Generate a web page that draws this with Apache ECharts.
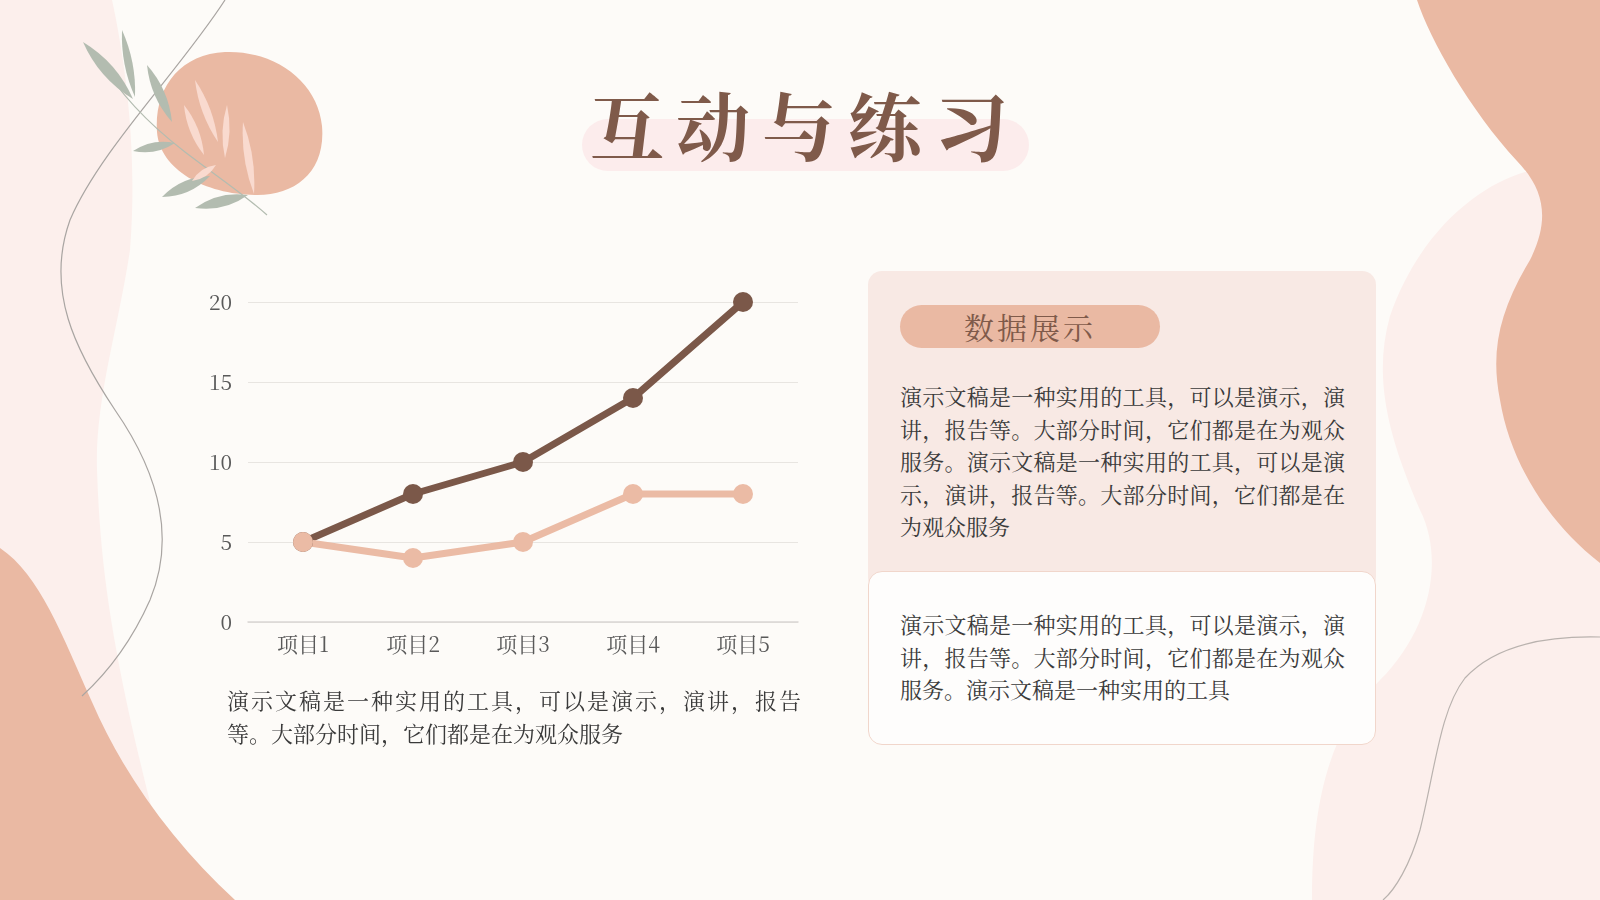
<!DOCTYPE html>
<html>
<head>
<meta charset="utf-8">
<script src="https://cdn.jsdelivr.net/npm/echarts@6/dist/echarts.min.js"></script>
<style>
  html, body { margin: 0; padding: 0; background: #fdfbf8; }
  #page { position: relative; width: 1600px; height: 900px; overflow: hidden; }
  #deco { position: absolute; left: 0; top: 0; width: 1600px; height: 900px; }
  #chart { position: absolute; left: 0; top: 0; width: 1600px; height: 900px; }
  .txt { position: absolute; font-family: "Noto Serif CJK SC", "Noto Sans CJK SC", serif; color: #3a3a3a; }
  .txt .ln { white-space: nowrap; }
  .txt .ln.j { text-align: justify; text-align-last: justify; }
  #title { left: 560px; top: 73px; width: 490px; text-align: center; font-size: 74px; font-weight: bold;
           color: #7f5a4a; letter-spacing: 12px; line-height: 100px; }
  #caption { left: 227px; top: 683px; width: 574px; font-size: 22px; line-height: 33px; }
  #panelTop { position: absolute; left: 868px; top: 271px; width: 508px; height: 320px; background: #f8e9e4; border-radius: 14px; }
  #panelBot { position: absolute; left: 868px; top: 571px; width: 506px; height: 172px; background: #fefdfc;
              border: 1px solid #f1d6cb; border-radius: 14px; }
  #pill { position: absolute; left: 900px; top: 305px; width: 260px; height: 43px; background: #eab9a3; border-radius: 22px;
          text-align: center; line-height: 43px; font-size: 30px; letter-spacing: 3px; color: #7f5a4a; }
  #p1 { left: 900px; top: 380px; width: 445px; font-size: 22px; line-height: 32.6px; }
  #p2 { left: 900px; top: 608px; width: 445px; font-size: 22px; line-height: 32.6px; }
</style>
</head>
<body>
<div id="page">
  <svg id="deco" width="1600" height="900" viewBox="0 0 1600 900"></svg>
  <div id="chart"></div>
  <div class="txt" id="title">互动与练习</div>
  <div class="txt" id="caption"></div>
  <div id="panelTop"></div>
  <div id="panelBot"></div>
  <div class="txt" id="pill">数据展示</div>
  <div class="txt" id="p1"></div>
  <div class="txt" id="p2"></div>
</div>
<script>
// 图表数据
var categories = ['项目1', '项目2', '项目3', '项目4', '项目5'];
var seriesDark = [5, 8, 10, 14, 20];
var seriesLight = [5, 4, 5, 8, 8];
var yTicks = [0, 5, 10, 15, 20];

// 文本
var captionLines = ['演示文稿是一种实用的工具，可以是演示，演讲，报告', '等。大部分时间，它们都是在为观众服务'];
var panelLines1 = ['演示文稿是一种实用的工具，可以是演示，演', '讲，报告等。大部分时间，它们都是在为观众',
  '服务。演示文稿是一种实用的工具，可以是演', '示，演讲，报告等。大部分时间，它们都是在', '为观众服务'];
var panelLines2 = ['演示文稿是一种实用的工具，可以是演示，演', '讲，报告等。大部分时间，它们都是在为观众',
  '服务。演示文稿是一种实用的工具'];

// 两端对齐，末行左对齐
function fillLines(id, lines) {
  var html = '';
  for (var i = 0; i < lines.length; i++) {
    html += '<div class="ln' + (i < lines.length - 1 ? ' j' : '') + '">' + lines[i] + '</div>';
  }
  document.getElementById(id).innerHTML = html;
}
fillLines('caption', captionLines);
fillLines('p1', panelLines1);
fillLines('p2', panelLines2);

var DARK = '#7b5849';
var LIGHT = '#ebbba5';
var SALMON = '#eab9a3';
var PINK = '#fcefec';

// 叶子形状
function leafPath(x1, y1, x2, y2, w) {
  var mx = (x1 + x2) / 2, my = (y1 + y2) / 2;
  var dx = x2 - x1, dy = y2 - y1;
  var len = Math.sqrt(dx * dx + dy * dy);
  var nx = -dy / len * w, ny = dx / len * w;
  return 'M' + x1 + ',' + y1 + ' Q' + (mx + nx) + ',' + (my + ny) + ' ' + x2 + ',' + y2 +
    ' Q' + (mx - nx) + ',' + (my - ny) + ' ' + x1 + ',' + y1 + ' Z';
}

var greenLeaves = [[83, 42, 133, 99, 12], [122, 30, 135, 97, 8], [147, 65, 172, 122, 10],
  [133, 151, 175, 143, 9], [162, 197, 210, 176, 11], [195, 208, 248, 195, 11]];
var paleLeaves = [[195, 80, 218, 142, 8], [184, 105, 204, 155, 8], [227, 105, 225, 158, 7],
  [243, 122, 254, 194, 8], [192, 181, 216, 165, 7]];

// 背景装饰
var deco = [
  ['M0,0 L112,0 C125,60 138,150 130,250 C118,330 95,400 97,470 C100,560 110,640 147,790 L175,900 L0,900 Z', PINK, 'none'],
  ['M0,548 C40,575 62,635 92,702 C122,772 172,842 235,900 L0,900 Z', SALMON, 'none'],
  ['M225,0 C180,70 100,150 70,220 C45,290 75,350 115,410 C160,475 175,540 150,600 C130,645 105,675 82,696', 'none', '#a9a5a2'],
  ['M1525,172 C1480,185 1420,230 1390,316 C1372,380 1390,440 1420,510 C1445,560 1430,630 1380,680 C1330,730 1312,800 1312,900 L1600,900 L1600,172 Z', PINK, 'none'],
  ['M1417,0 C1430,40 1470,110 1517,161 C1545,190 1550,220 1530,260 C1500,310 1490,350 1500,400 C1510,460 1545,520 1600,563 L1600,0 Z', SALMON, 'none'],
  ['M1600,637 C1560,636 1500,640 1465,678 C1440,710 1435,770 1420,830 C1410,865 1395,890 1383,900', 'none', '#b9b2ae'],
  ['M608,119 L1003,119 A26,26 0 0 1 1003,171 L608,171 A26,26 0 0 1 608,119 Z', '#fcecec', 'none'],
  ['M225,52 C275,50 318,82 322,126 C326,172 295,196 255,195 C205,194 160,170 157,132 C154,88 180,54 225,52 Z', SALMON, 'none'],
  ['M100,60 C120,95 150,125 185,152 C215,175 245,195 267,215', 'none', '#b3bcb0']
];
greenLeaves.forEach(function (l) { deco.push([leafPath(l[0], l[1], l[2], l[3], l[4]), '#b3bcb0', 'none']); });
paleLeaves.forEach(function (l) { deco.push([leafPath(l[0], l[1], l[2], l[3], l[4]), '#f9dacf', 'none']); });
var svg = document.getElementById('deco');
deco.forEach(function (d) {
  var p = document.createElementNS('http://www.w3.org/2000/svg', 'path');
  p.setAttribute('d', d[0]);
  p.setAttribute('fill', d[1]);
  p.setAttribute('stroke', d[2]);
  p.setAttribute('stroke-width', '1.2');
  svg.appendChild(p);
});

var myChart = echarts.init(document.getElementById('chart'));
var labelFont = '"Noto Serif CJK SC", "Liberation Serif", "Noto Sans CJK SC", serif';
var option = {
  backgroundColor: 'transparent',
  animation: false,
  grid: { left: 248, top: 302, width: 550, height: 320 },
  xAxis: {
    type: 'category',
    data: categories,
    boundaryGap: true,
    axisTick: { show: false },
    axisLine: { lineStyle: { color: '#d9d6d3', width: 1.5 } },
    axisLabel: { color: '#595959', fontSize: 21, fontFamily: labelFont, margin: 12 }
  },
  yAxis: {
    type: 'value',
    min: yTicks[0],
    max: yTicks[yTicks.length - 1],
    interval: yTicks[1] - yTicks[0],
    axisLine: { show: false },
    axisTick: { show: false },
    axisLabel: { color: '#595959', fontSize: 21, fontFamily: labelFont, margin: 16 },
    splitLine: { lineStyle: { color: '#e8e5e1', width: 1 } }
  },
  series: [
    {
      name: '系列1', type: 'line', data: seriesDark,
      symbol: 'circle', symbolSize: 20,
      lineStyle: { color: DARK, width: 7 },
      itemStyle: { color: DARK }
    },
    {
      name: '系列2', type: 'line', data: seriesLight,
      symbol: 'circle', symbolSize: 20,
      lineStyle: { color: LIGHT, width: 7 },
      itemStyle: { color: LIGHT }
    }
  ]
};
myChart.setOption(option);
</script>
</body>
</html>
